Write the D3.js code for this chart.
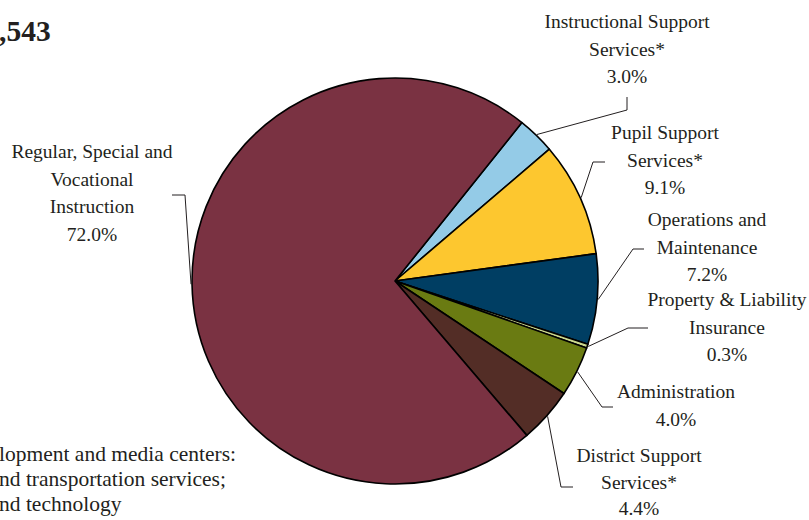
<!DOCTYPE html>
<html><head><meta charset="utf-8">
<script src="https://cdn.jsdelivr.net/npm/d3@7"></script>
<style>
html,body{margin:0;padding:0;background:#fff;overflow:hidden}
svg{display:block}
text{font-family:"Liberation Serif","Times New Roman",serif;fill:#231F20}
</style></head>
<body>
<svg id="chart" width="809" height="520"></svg>
<script>
// ---- data ----
const categories = [
  ["Instructional Support", "Services*"],
  ["Pupil Support", "Services*"],
  ["Operations and", "Maintenance"],
  ["Property & Liability", "Insurance"],
  ["Administration"],
  ["District Support", "Services*"],
  ["Regular, Special and", "Vocational", "Instruction"]
];
const values = [3.0, 9.1, 7.2, 0.3, 4.0, 4.4, 72.0];
const colors = ["#94CBE7", "#FDC72F", "#003E63", "#CCD98E", "#6A7B12", "#532D26", "#7A3242"];
const titleText = ",543";
const noteLines = ["lopment and media centers:", "nd transportation services;", "nd technology"];

// ---- layout (positions only) ----
const cx = 395, cy = 281, R = 203;
const startAngle = 38.7 * Math.PI / 180;
const labelLayout = [
  {x: 627, y: 28, lh: 27.5, path: [[627, 110], [627, 97]]},
  {x: 665, y: 139, lh: 27.5, path: [[593, 162], [605, 162]]},
  {x: 707, y: 226, lh: 27.5, path: [[633, 249], [644, 249]]},
  {x: 727, y: 306, lh: 27.5, path: [[628, 328], [648, 328]]},
  {x: 676, y: 398, lh: 27.5, path: [[602, 407], [613, 407]]},
  {x: 639, y: 462, lh: 26.5, path: [[561, 487], [573, 487]]},
  {x: 92, y: 158, lh: 27.5, path: [[185, 195], [172, 195]]}
];

const svg = d3.select("#chart");
const g = svg.append("g").attr("transform", `translate(${cx},${cy})`);

const pie = d3.pie().sort(null).value(d => d)
  .startAngle(startAngle).endAngle(startAngle + 2 * Math.PI);
const arcs = pie(values);
const arc = d3.arc().innerRadius(0).outerRadius(R);

g.selectAll("path.slice").data(arcs).enter().append("path")
  .attr("class", "slice")
  .attr("d", arc)
  .attr("fill", (d, i) => colors[i])
  .attr("stroke", "#000")
  .attr("stroke-width", 1.6)
  .attr("stroke-linejoin", "round");

// leader lines
arcs.forEach((a, i) => {
  const mid = (a.startAngle + a.endAngle) / 2;
  const p0 = [cx + (R + 1) * Math.sin(mid), cy - (R + 1) * Math.cos(mid)];
  const pts = [p0].concat(labelLayout[i].path);
  svg.append("path")
    .attr("d", d3.line()(pts))
    .attr("fill", "none")
    .attr("stroke", "#231F20")
    .attr("stroke-width", 1);
});

// labels
const fmt = d3.format(".1f");
categories.forEach((lines, i) => {
  const L = labelLayout[i];
  const all = lines.concat([fmt(values[i]) + "%"]);
  const t = svg.append("text")
    .attr("text-anchor", "middle")
    .attr("font-size", 19.5);
  all.forEach((s, k) => {
    t.append("tspan").attr("x", L.x).attr("y", L.y + k * L.lh).text(s);
  });
});

// title (cropped)
svg.append("text")
  .attr("x", -1).attr("y", 41)
  .attr("font-size", 29.5).attr("font-weight", "bold")
  .text(titleText);

// footnote (cropped)
const note = svg.append("text").attr("font-size", 21.5);
noteLines.forEach((s, k) => {
  note.append("tspan").attr("x", -1).attr("y", 461 + k * 25).text(s);
});
</script>
</body></html>
